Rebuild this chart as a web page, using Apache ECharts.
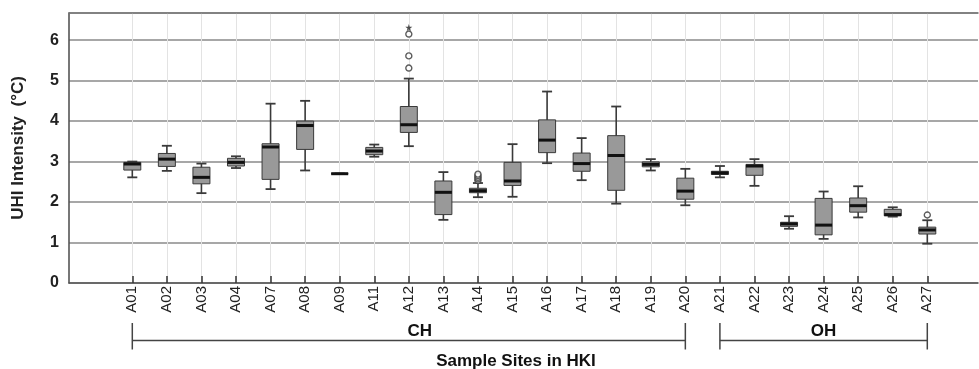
<!DOCTYPE html>
<html>
<head>
<meta charset="utf-8">
<script src="https://cdn.jsdelivr.net/npm/echarts@6/dist/echarts.min.js"></script>
<style>html,body{margin:0;padding:0;background:#fff}#c{width:979px;height:369px}</style>
</head>
<body>
<div id="c"></div>
<script>
var sites = ['A01','A02','A03','A04','A07','A08','A09','A11','A12','A13','A14','A15','A16','A17','A18','A19','A20','A21','A22','A23','A24','A25','A26','A27'];
var lowWhisker  = [2.61,2.77,2.22,2.84,2.32,2.78,2.70,3.12,3.38,1.56,2.12,2.13,2.96,2.54,1.96,2.78,1.92,2.61,2.40,1.34,1.09,1.62,1.64,0.97];
var q1Values    = [2.79,2.88,2.45,2.89,2.56,3.30,2.70,3.17,3.72,1.69,2.23,2.41,3.22,2.76,2.29,2.87,2.07,2.68,2.66,1.40,1.19,1.75,1.66,1.21];
var medianVals  = [2.94,3.06,2.61,2.98,3.36,3.89,2.70,3.26,3.91,2.24,2.28,2.52,3.53,2.95,3.15,2.93,2.27,2.72,2.89,1.46,1.43,1.91,1.69,1.31];
var q3Values    = [2.98,3.20,2.86,3.08,3.44,4.00,2.70,3.35,4.36,2.52,2.34,2.98,4.03,3.21,3.64,2.99,2.59,2.76,2.93,1.50,2.09,2.10,1.82,1.38];
var highWhisker = [3.00,3.39,2.95,3.13,4.43,4.50,2.70,3.42,5.05,2.74,2.47,3.43,4.73,3.58,4.36,3.06,2.82,2.89,3.06,1.65,2.26,2.39,1.87,1.55];
var outlierSites  = ['A12','A12','A12','A14','A14','A14','A14','A14','A27'];
var outlierValues = [5.31,5.61,6.15,2.53,2.57,2.61,2.65,2.69,1.68];
var extremeSites  = ['A12'];
var extremeValues = [6.31];
var groupLabels = [['CH','A01','A20'],['OH','A21','A27']];
var yTicks = [0,1,2,3,4,5,6];

var boxData = sites.map(function(s,i){return [i, lowWhisker[i], q1Values[i], medianVals[i], q3Values[i], highWhisker[i]];});
var outData = outlierSites.map(function(s,i){return [s, outlierValues[i]];});
var extData = extremeSites.map(function(s,i){return [s, extremeValues[i]];});

var chart = echarts.init(document.getElementById('c'), null, {renderer:'canvas'});
var FONT = '"Liberation Sans", Arial, Helvetica, sans-serif';
var GT = 13, GB = 86, YMAX = 6.67;

function renderBox(params, api){
  var i = api.value(0);
  var pLow = api.coord([i, api.value(1)]);
  var pQ1 = api.coord([i, api.value(2)]);
  var pMed = api.coord([i, api.value(3)]);
  var pQ3 = api.coord([i, api.value(4)]);
  var pHigh = api.coord([i, api.value(5)]);
  var x = pMed[0], bw = 17, cw = 10;
  var stroke = '#3a3a3a';
  return {type:'group', children:[
    {type:'line', shape:{x1:x,y1:pHigh[1],x2:x,y2:pLow[1]}, style:{stroke:stroke,lineWidth:1.6}},
    {type:'line', shape:{x1:x-cw/2,y1:pHigh[1],x2:x+cw/2,y2:pHigh[1]}, style:{stroke:stroke,lineWidth:1.8}},
    {type:'line', shape:{x1:x-cw/2,y1:pLow[1],x2:x+cw/2,y2:pLow[1]}, style:{stroke:stroke,lineWidth:1.8}},
    {type:'rect', shape:{x:x-bw/2,y:pQ3[1],width:bw,height:Math.max(pQ1[1]-pQ3[1],0)}, style:{fill:'#999999',stroke:'#3a3a3a',lineWidth:1}},
    {type:'line', shape:{x1:x-bw/2,y1:pMed[1],x2:x+bw/2,y2:pMed[1]}, style:{stroke:'#111',lineWidth:3}}
  ]};
}

var option = {
  animation:false,
  backgroundColor:'#fff',
  grid:[
    {left:69, right:1, top:GT, bottom:GB},
    {left:132.3, right:51.7, top:GT, bottom:GB}
  ],
  xAxis:[
    {gridIndex:0, type:'value', min:0, max:1, position:'bottom',
     axisLine:{show:true, lineStyle:{color:'#555', width:1.6}}, axisTick:{show:false}, axisLabel:{show:false}, splitLine:{show:false}},
    {gridIndex:0, type:'value', min:0, max:1, position:'top',
     axisLine:{show:true, lineStyle:{color:'#777', width:1.6}}, axisTick:{show:false}, axisLabel:{show:false}, splitLine:{show:false}},
    {gridIndex:1, type:'category', data:sites, boundaryGap:false, position:'bottom',
     axisLine:{show:false},
     axisTick:{show:true, inside:true, length:7, alignWithLabel:true, lineStyle:{color:'#333', width:1.5}},
     axisLabel:{rotate:90, margin:3, interval:0, fontFamily:FONT, fontSize:15, color:'#222'},
     splitLine:{show:true, interval:0, lineStyle:{color:'#e3e3e3', width:1}}}
  ],
  yAxis:[
    {gridIndex:0, type:'value', min:0, max:YMAX, interval:1,
     name:'UHI Intensity  (°C)', nameLocation:'middle', nameGap:42,
     nameTextStyle:{fontFamily:FONT, fontSize:17, fontWeight:'bold', color:'#222'},
     axisLine:{show:true, lineStyle:{color:'#555', width:1.6}}, axisTick:{show:false},
     axisLabel:{margin:10, fontFamily:FONT, fontSize:16, fontWeight:'bold', color:'#222',
       formatter:function(v){return yTicks.indexOf(Math.round(v*1000)/1000) >= 0 ? String(v) : '';}},
     splitLine:{show:true, lineStyle:{color:'#8a8a8a', width:1.6}}},
    {gridIndex:1, type:'value', min:0, max:YMAX, show:false, splitLine:{show:false}}
  ],
  series:[
    {type:'custom', xAxisIndex:2, yAxisIndex:1, data:boxData, renderItem:renderBox, clip:false,
     encode:{x:0, y:[1,2,3,4,5]}, z:5},
    {type:'scatter', xAxisIndex:2, yAxisIndex:1, data:outData, symbol:'circle', symbolSize:6,
     itemStyle:{color:'#fff', borderColor:'#333', borderWidth:1.4}, z:6},
    {type:'scatter', xAxisIndex:2, yAxisIndex:1, data:extData,
     symbol:'path://M50,0 L61,35 L98,35 L68,57 L79,91 L50,70 L21,91 L32,57 L2,35 L39,35 Z', symbolSize:7,
     itemStyle:{color:'#222'}, z:6}
  ]
};
chart.setOption(option);

var yBr = 340.5, yTop = 323, yBot = 349.5;
var g = [];
groupLabels.forEach(function(gr){
  var x1 = chart.convertToPixel({xAxisIndex:2}, gr[1]);
  var x2 = chart.convertToPixel({xAxisIndex:2}, gr[2]);
  var ls = {stroke:'#444', lineWidth:1.5};
  g.push({type:'line', shape:{x1:x1,y1:yBr,x2:x2,y2:yBr}, style:ls});
  g.push({type:'line', shape:{x1:x1,y1:yTop,x2:x1,y2:yBot}, style:ls});
  g.push({type:'line', shape:{x1:x2,y1:yTop,x2:x2,y2:yBot}, style:ls});
  g.push({type:'text', x:(x1+x2)/2 + (gr[0]==='CH'?11:0), y:331.5,
    style:{text:gr[0], fill:'#111', font:'bold 17px '+FONT, textAlign:'center', textVerticalAlign:'middle'}});
});
g.push({type:'text', x:516, y:361, style:{text:'Sample Sites in HKI', fill:'#111', font:'bold 17px '+FONT, textAlign:'center', textVerticalAlign:'middle'}});
chart.setOption({graphic:g});
</script>
</body>
</html>
